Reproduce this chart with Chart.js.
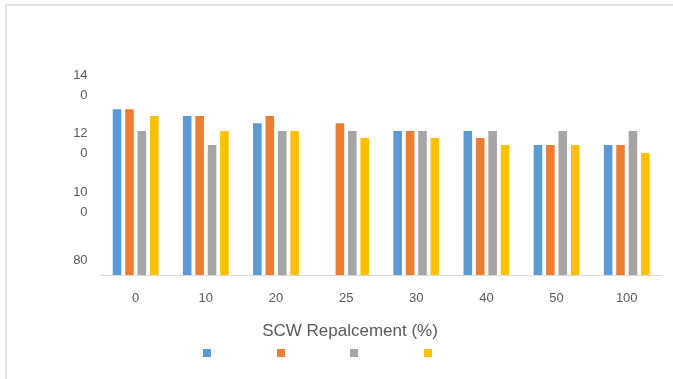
<!DOCTYPE html>
<html>
<head>
<meta charset="utf-8">
<script src="https://cdn.jsdelivr.net/npm/chart.js@4/dist/chart.umd.min.js"></script>
<style>
  html, body { margin: 0; padding: 0; background: #fff; }
  #wrap { position: relative; width: 673px; height: 379px; overflow: hidden; }
  #frame { position: absolute; left: 5px; top: 4px; right: -10px; bottom: -10px;
           border-top: 2px solid #e3e3e3; border-left: 2px solid #e3e3e3; }
  #chart { position: absolute; left: 0; top: 0; }
  #legend { position: absolute; left: 203px; top: 349px; display: flex; gap: 65.7px; }
  #legend span { display: block; width: 8px; height: 8px; }
</style>
</head>
<body>
<div id="wrap">
  <div id="frame"></div>
  <canvas id="chart" width="673" height="379"></canvas>
  <div id="legend"></div>
</div>
<script>
// Replacement levels (x axis)
const categories = ['0', '10', '20', '25', '30', '40', '50', '100'];

// Four measured series per replacement level
const seriesBlue   = [131.7, 129.4, 126.9, null,  124.3, 124.3, 119.5, 119.5];
const seriesOrange = [131.7, 129.4, 129.4, 126.9, 124.3, 121.9, 119.5, 119.5];
const seriesGray   = [124.3, 119.5, 124.3, 124.3, 124.3, 124.3, 124.3, 124.3];
const seriesYellow = [129.4, 124.3, 124.3, 121.9, 121.9, 119.5, 119.5, 116.7];

// Value axis
const yTicks = [80, 100, 120, 140];
const yMin = 75;
const yMax = 140;

const xTitle = 'SCW Repalcement (%)';

const FONT = 'Liberation Sans, Arial, sans-serif';
const TEXT = '#595959';

const chart = new Chart(document.getElementById('chart'), {
  type: 'bar',
  data: {
    labels: categories,
    datasets: [
      { data: seriesBlue,   backgroundColor: '#5B9BD5' },
      { data: seriesOrange, backgroundColor: '#ED7D31' },
      { data: seriesGray,   backgroundColor: '#A5A5A5' },
      { data: seriesYellow, backgroundColor: '#FFC000' }
    ]
  },
  options: {
    responsive: false,
    animation: false,
    devicePixelRatio: 1,
    datasets: { bar: { categoryPercentage: 0.708, barPercentage: 0.69 } },
    layout: { padding: { left: 38.2, right: 11.2, top: 85, bottom: 37 } },
    plugins: {
      legend: { display: false },
      tooltip: { enabled: false },
      title: {
        display: true,
        position: 'bottom',
        text: xTitle,
        color: TEXT,
        font: { family: FONT, size: 17, weight: 'normal', lineHeight: 1.2 },
        padding: { top: 0, bottom: 0 }
      }
    },
    scales: {
      x: {
        border: { color: '#d9d9d9', width: 1 },
        grid: { display: false, drawTicks: false },
        ticks: { padding: 15.5, color: TEXT, font: { family: FONT, size: 13 } }
      },
      y: {
        min: yMin,
        max: yMax,
        border: { display: false },
        grid: { display: false, drawTicks: false },
        afterBuildTicks: s => { s.ticks = yTicks.map(v => ({ value: v })); },
        afterFit: s => { s.width = 62.4; },
        ticks: {
          padding: 13,
          color: TEXT,
          font: { family: FONT, size: 13, lineHeight: '20px' },
          // narrow axis: three-digit labels wrap onto two lines
          callback: v => {
            const t = String(v);
            return t.length > 2 ? [t.slice(0, 2), t.slice(2)] : t;
          }
        }
      }
    }
  }
});

// Swatch-only legend built from the chart's own legend items
const legendEl = document.getElementById('legend');
Chart.defaults.plugins.legend.labels.generateLabels(chart).forEach(item => {
  const sw = document.createElement('span');
  sw.style.background = item.fillStyle;
  legendEl.appendChild(sw);
});
</script>
</body>
</html>
